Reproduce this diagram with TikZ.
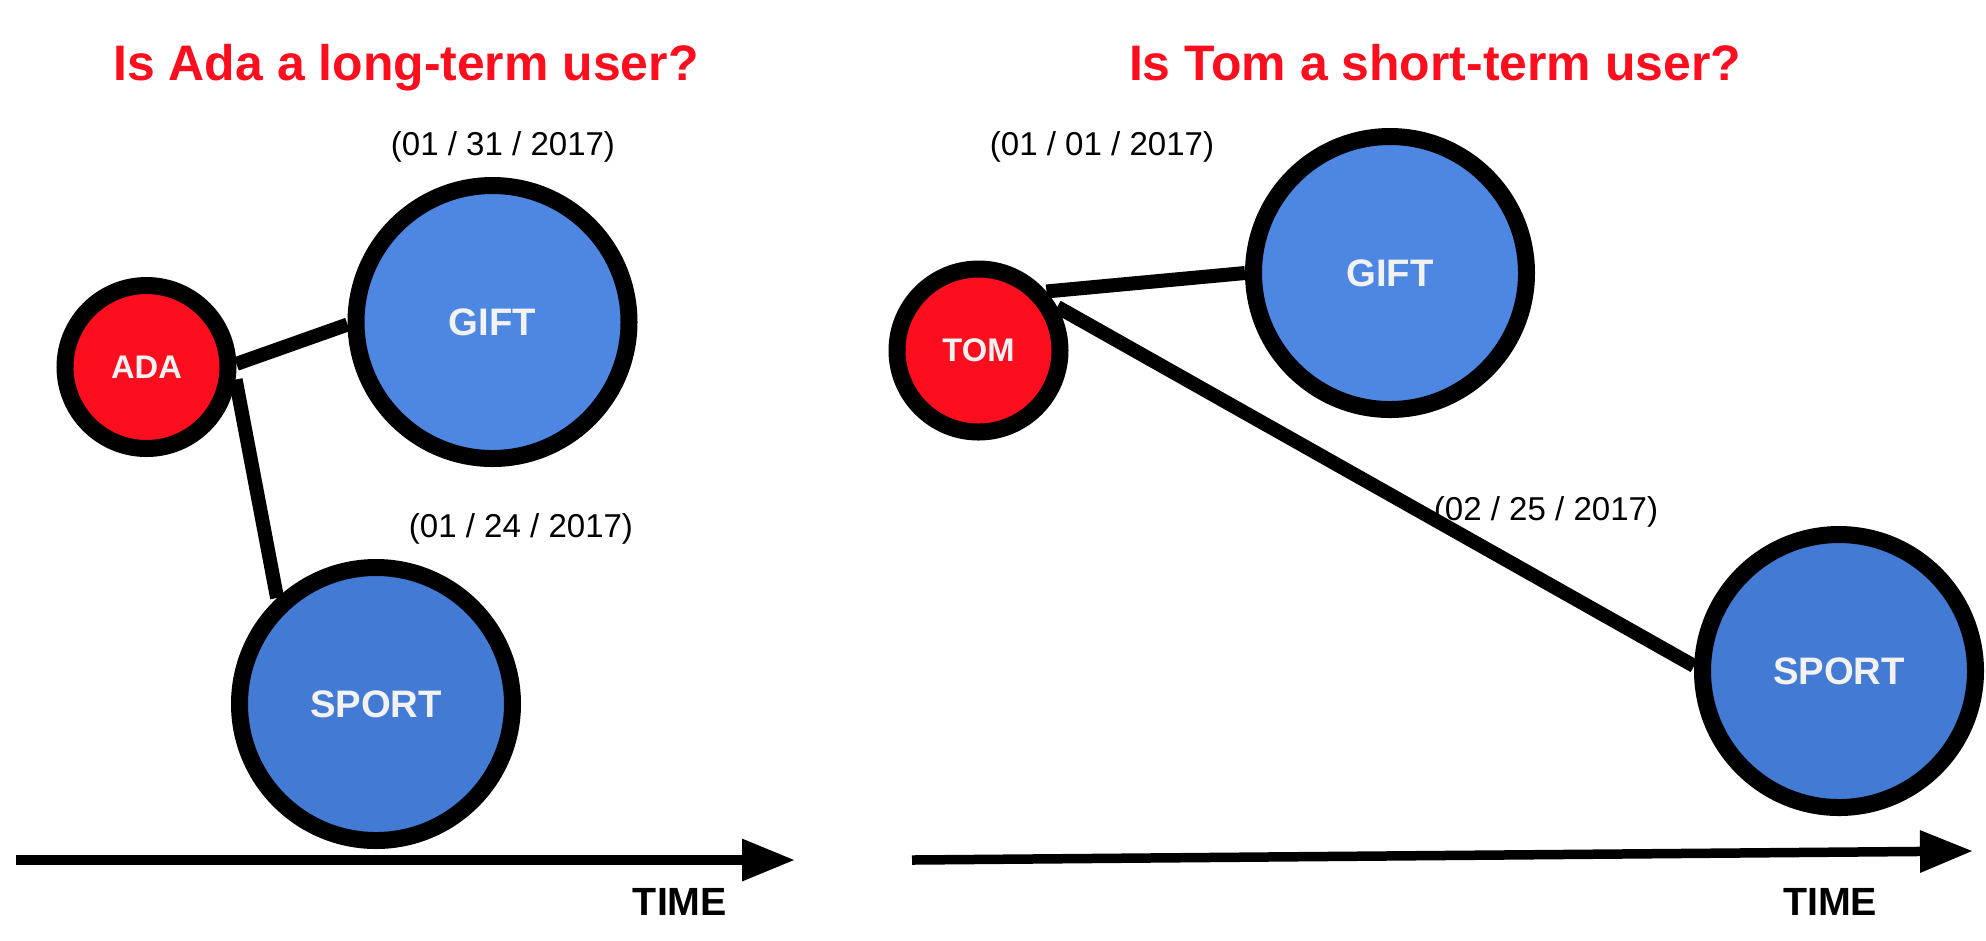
\documentclass[tikz,border=0pt]{standalone}
\usepackage{fontspec}
\setmainfont{Liberation Sans}
\usepackage{tikz}
\usetikzlibrary{arrows.meta}
\definecolor{alarm}{HTML}{FC0E1E}
\definecolor{sky}{HTML}{4D87E2}
\definecolor{ocean}{HTML}{427AD4}
\definecolor{chalk}{HTML}{F2F2F2}
\tikzset{
  ball/.style={circle, draw=black, line width=1.7mm, inner sep=0pt, text=chalk},
  userball/.style={ball, fill=alarm, minimum size=16.3mm, font=\fontsize{9.3}{11}\selectfont\bfseries},
  giftball/.style={ball, fill=sky, minimum size=27.3mm, font=\fontsize{10.9}{13}\selectfont\bfseries},
  sportball/.style={ball, fill=ocean, minimum size=27.3mm, font=\fontsize{10.9}{13}\selectfont\bfseries},
  question/.style={font=\fontsize{14.2}{17}\selectfont\bfseries, text=alarm, anchor=base},
  datelbl/.style={font=\fontsize{9.4}{11}\selectfont, anchor=base},
  timelbl/.style={font=\fontsize{11.2}{13}\selectfont\bfseries, anchor=base},
  link/.style={draw=black, line width=1.4mm},
  timeaxis/.style={draw=black, line width=0.95mm, -{Triangle[length=5.3mm,width=4mm]}}
}
\begin{document}
\begin{tikzpicture}
  \useasboundingbox (0,0) rectangle (19.86,-9.40);
  % Ada
  \node[question] (qada) at (4.06,-0.80) {Is Ada a long-term user?};
  \node[userball] (ada) at (1.465,-3.67) {ADA};
  \node[giftball] (gifta) at (4.925,-3.22) {GIFT};
  \node[sportball] (sporta) at (3.76,-7.04) {SPORT};
  \node[datelbl] (datega) at (5.03,-1.55) {(01 / 31 / 2017)};
  \node[datelbl] (datesa) at (5.21,-5.37) {(01 / 24 / 2017)};
  \draw[link] (ada.2) -- (gifta.181);
  \draw[link] (ada.-8) -- (sporta.133);
  \coordinate (ta0) at (0.16,-8.60);
  \coordinate (ta1) at (7.95,-8.60);
  \draw[timeaxis] (ta0) -- (ta1);
  \node[timelbl] (timea) at (6.80,-9.15) {TIME};
  % Tom
  \node[question] (qtom) at (14.35,-0.80) {Is Tom a short-term user?};
  \node[userball] (tom) at (9.785,-3.505) {TOM};
  \node[giftball] (giftb) at (13.90,-2.73) {GIFT};
  \node[sportball] (sportb) at (18.39,-6.71) {SPORT};
  \node[datelbl] (dategb) at (11.02,-1.55) {(01 / 01 / 2017)};
  \node[datelbl] (datesb) at (15.46,-5.20) {(02 / 25 / 2017)};
  \draw[link] (tom.41) -- (giftb.180);
  \draw[link] (tom.29) -- (sportb.178);
  \coordinate (tb0) at (9.12,-8.60);
  \coordinate (tb1) at (19.73,-8.51);
  \draw[timeaxis] (tb0) -- (tb1);
  \node[timelbl] (timeb) at (18.30,-9.15) {TIME};
\end{tikzpicture}
\end{document}
